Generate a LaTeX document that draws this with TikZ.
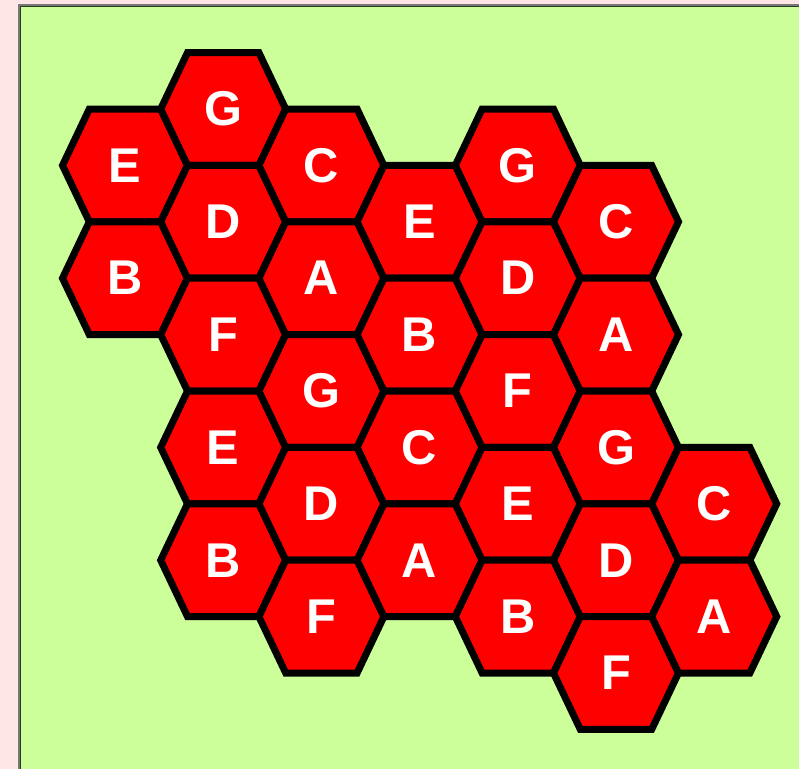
\documentclass[tikz,border=0pt]{standalone}
\usepackage{fontspec}
\setmainfont{Liberation Sans}
\definecolor{pinkbg}{RGB}{255,230,230}
\definecolor{greenbg}{RGB}{204,255,153}
\definecolor{hexred}{RGB}{255,0,0}
\definecolor{framegray}{RGB}{120,120,120}
\definecolor{framedark}{RGB}{40,60,30}
\begin{document}
\begin{tikzpicture}[x=1bp,y=-1bp,
  hexcell/.style={fill=hexred,draw=black,line width=7bp,line join=miter},
  hexlabel/.style={text=white,font=\bfseries\fontsize{49}{49}\selectfont,inner sep=0pt}]
\useasboundingbox (0,0) rectangle (799,769);
\fill[pinkbg] (0,0) rectangle (799,769);
\fill[greenbg] (19,5) rectangle (800,770);
\draw[framegray,line width=1.6bp] (18.9,770) -- (18.9,4.9) -- (800,4.9);
\draw[framedark,line width=1.4bp] (20.4,770) -- (20.4,6.4) -- (800,6.4);
\foreach \c/\k/\t in {1/1/E,1/3/B,
  2/0/G,2/2/D,2/4/F,2/6/E,2/8/B,
  3/1/C,3/3/A,3/5/G,3/7/D,3/9/F,
  4/2/E,4/4/B,4/6/C,4/8/A,
  5/1/G,5/3/D,5/5/F,5/7/E,5/9/B,
  6/2/C,6/4/A,6/6/G,6/8/D,6/10/F,
  7/7/C,7/9/A} {
  \pgfmathsetmacro\cx{125+98.2*(\c-1)}
  \pgfmathsetmacro\cy{109+56.4*\k}
  \draw[hexcell] (\cx-62.5,\cy) -- (\cx-35.7,\cy-56.4) -- (\cx+35.7,\cy-56.4)
     -- (\cx+62.5,\cy) -- (\cx+35.7,\cy+56.4) -- (\cx-35.7,\cy+56.4) -- cycle;
  \node[hexlabel] (h\c\k) at (\cx,\cy) {\t};
}
\end{tikzpicture}
\end{document}
